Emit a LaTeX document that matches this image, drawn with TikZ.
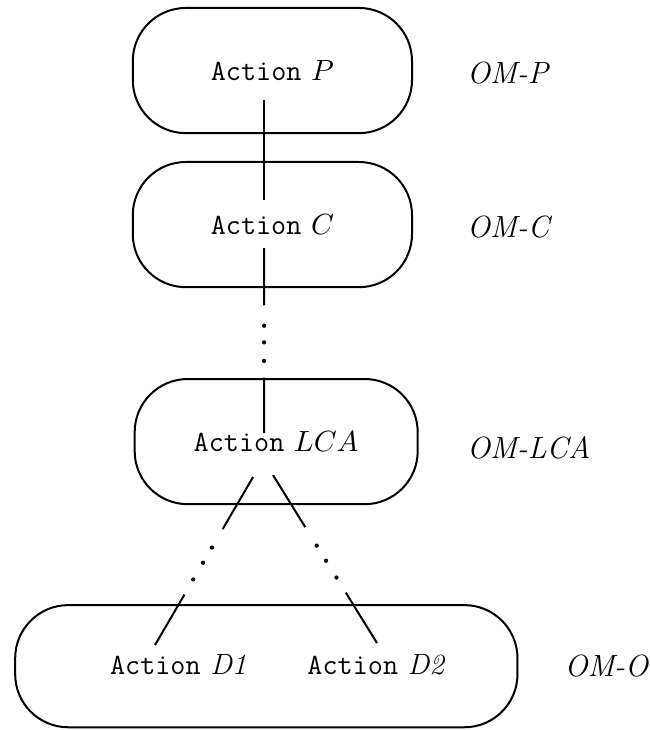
\documentclass[tikz,border=0pt]{standalone}
\usepackage{amsmath}
\usepackage{tikz}
\usetikzlibrary{positioning,calc}

\begin{document}
\begin{tikzpicture}[
  % --- global style ---
  every node/.style={font=\fontsize{11}{13}\selectfont},
  actbox/.style={
    draw, rounded corners=0.7cm, line width=0.75pt,
    minimum height=1.65cm, inner sep=0pt
  },
  omlabel/.style={font=\fontsize{11.5}{14}\selectfont\itshape, inner sep=0pt},
  link/.style={line width=0.75pt},
]
\useasboundingbox (0,0) rectangle (8.554,-9.621);

% ====== action boxes ======
\node[actbox, minimum width=3.68cm] (boxP)   at (3.59,-0.93) {\texttt{Action} $P$};
\node[actbox, minimum width=3.68cm] (boxC)   at (3.59,-2.96) {\texttt{Action} $C$};
\node[actbox, minimum width=3.73cm] (boxLCA) at (3.64,-5.82) {\texttt{Action} $LCA$};
\node[actbox, minimum width=6.62cm, minimum height=1.61cm] (boxO) at (3.51,-8.78) {};

\node (actD1) at (2.35,-8.76) {\texttt{Action} \textit{D1}};
\node (actD2) at (4.96,-8.76) {\texttt{Action} \textit{D2}};

% --- labels on the right ---
\node[omlabel, anchor=west] (omP)   at (6.15,-0.96) {OM-P};
\node[omlabel, anchor=west] (omC)   at (6.15,-2.99) {OM-C};
\node[omlabel, anchor=west] (omLCA) at (6.15,-5.90) {OM-LCA};
\node[omlabel, right=0.6cm of boxO] (omO) {OM-O};

% ====== connector ends ======
\coordinate (p-out)  at (3.48,-1.318);
\coordinate (c-in)   at (3.48,-2.636);
\coordinate (c-out)  at (3.48,-3.269);
\coordinate (lca-in) at (3.48,-5.707);
\coordinate (lca-l)  at (3.335,-6.287);
\coordinate (d1-in)  at (2.043,-8.501);
\coordinate (lca-r)  at (3.598,-6.261);
\coordinate (d2-in)  at (4.969,-8.475);

% ====== connectors ======
\draw[link] (p-out) -- (c-in);

% solid -- three dots -- solid
\foreach \a/\b in {c-out/lca-in, lca-l/d1-in, lca-r/d2-in} {
  \draw[link] (\a) -- ($(\a)!0.31!(\b)$);
  \draw[link] ($(\a)!0.70!(\b)$) -- (\b);
  \foreach \t in {0.42,0.51,0.61}
    \fill ($(\a)!\t!(\b)$) circle (0.8pt);
}

\end{tikzpicture}
\end{document}
